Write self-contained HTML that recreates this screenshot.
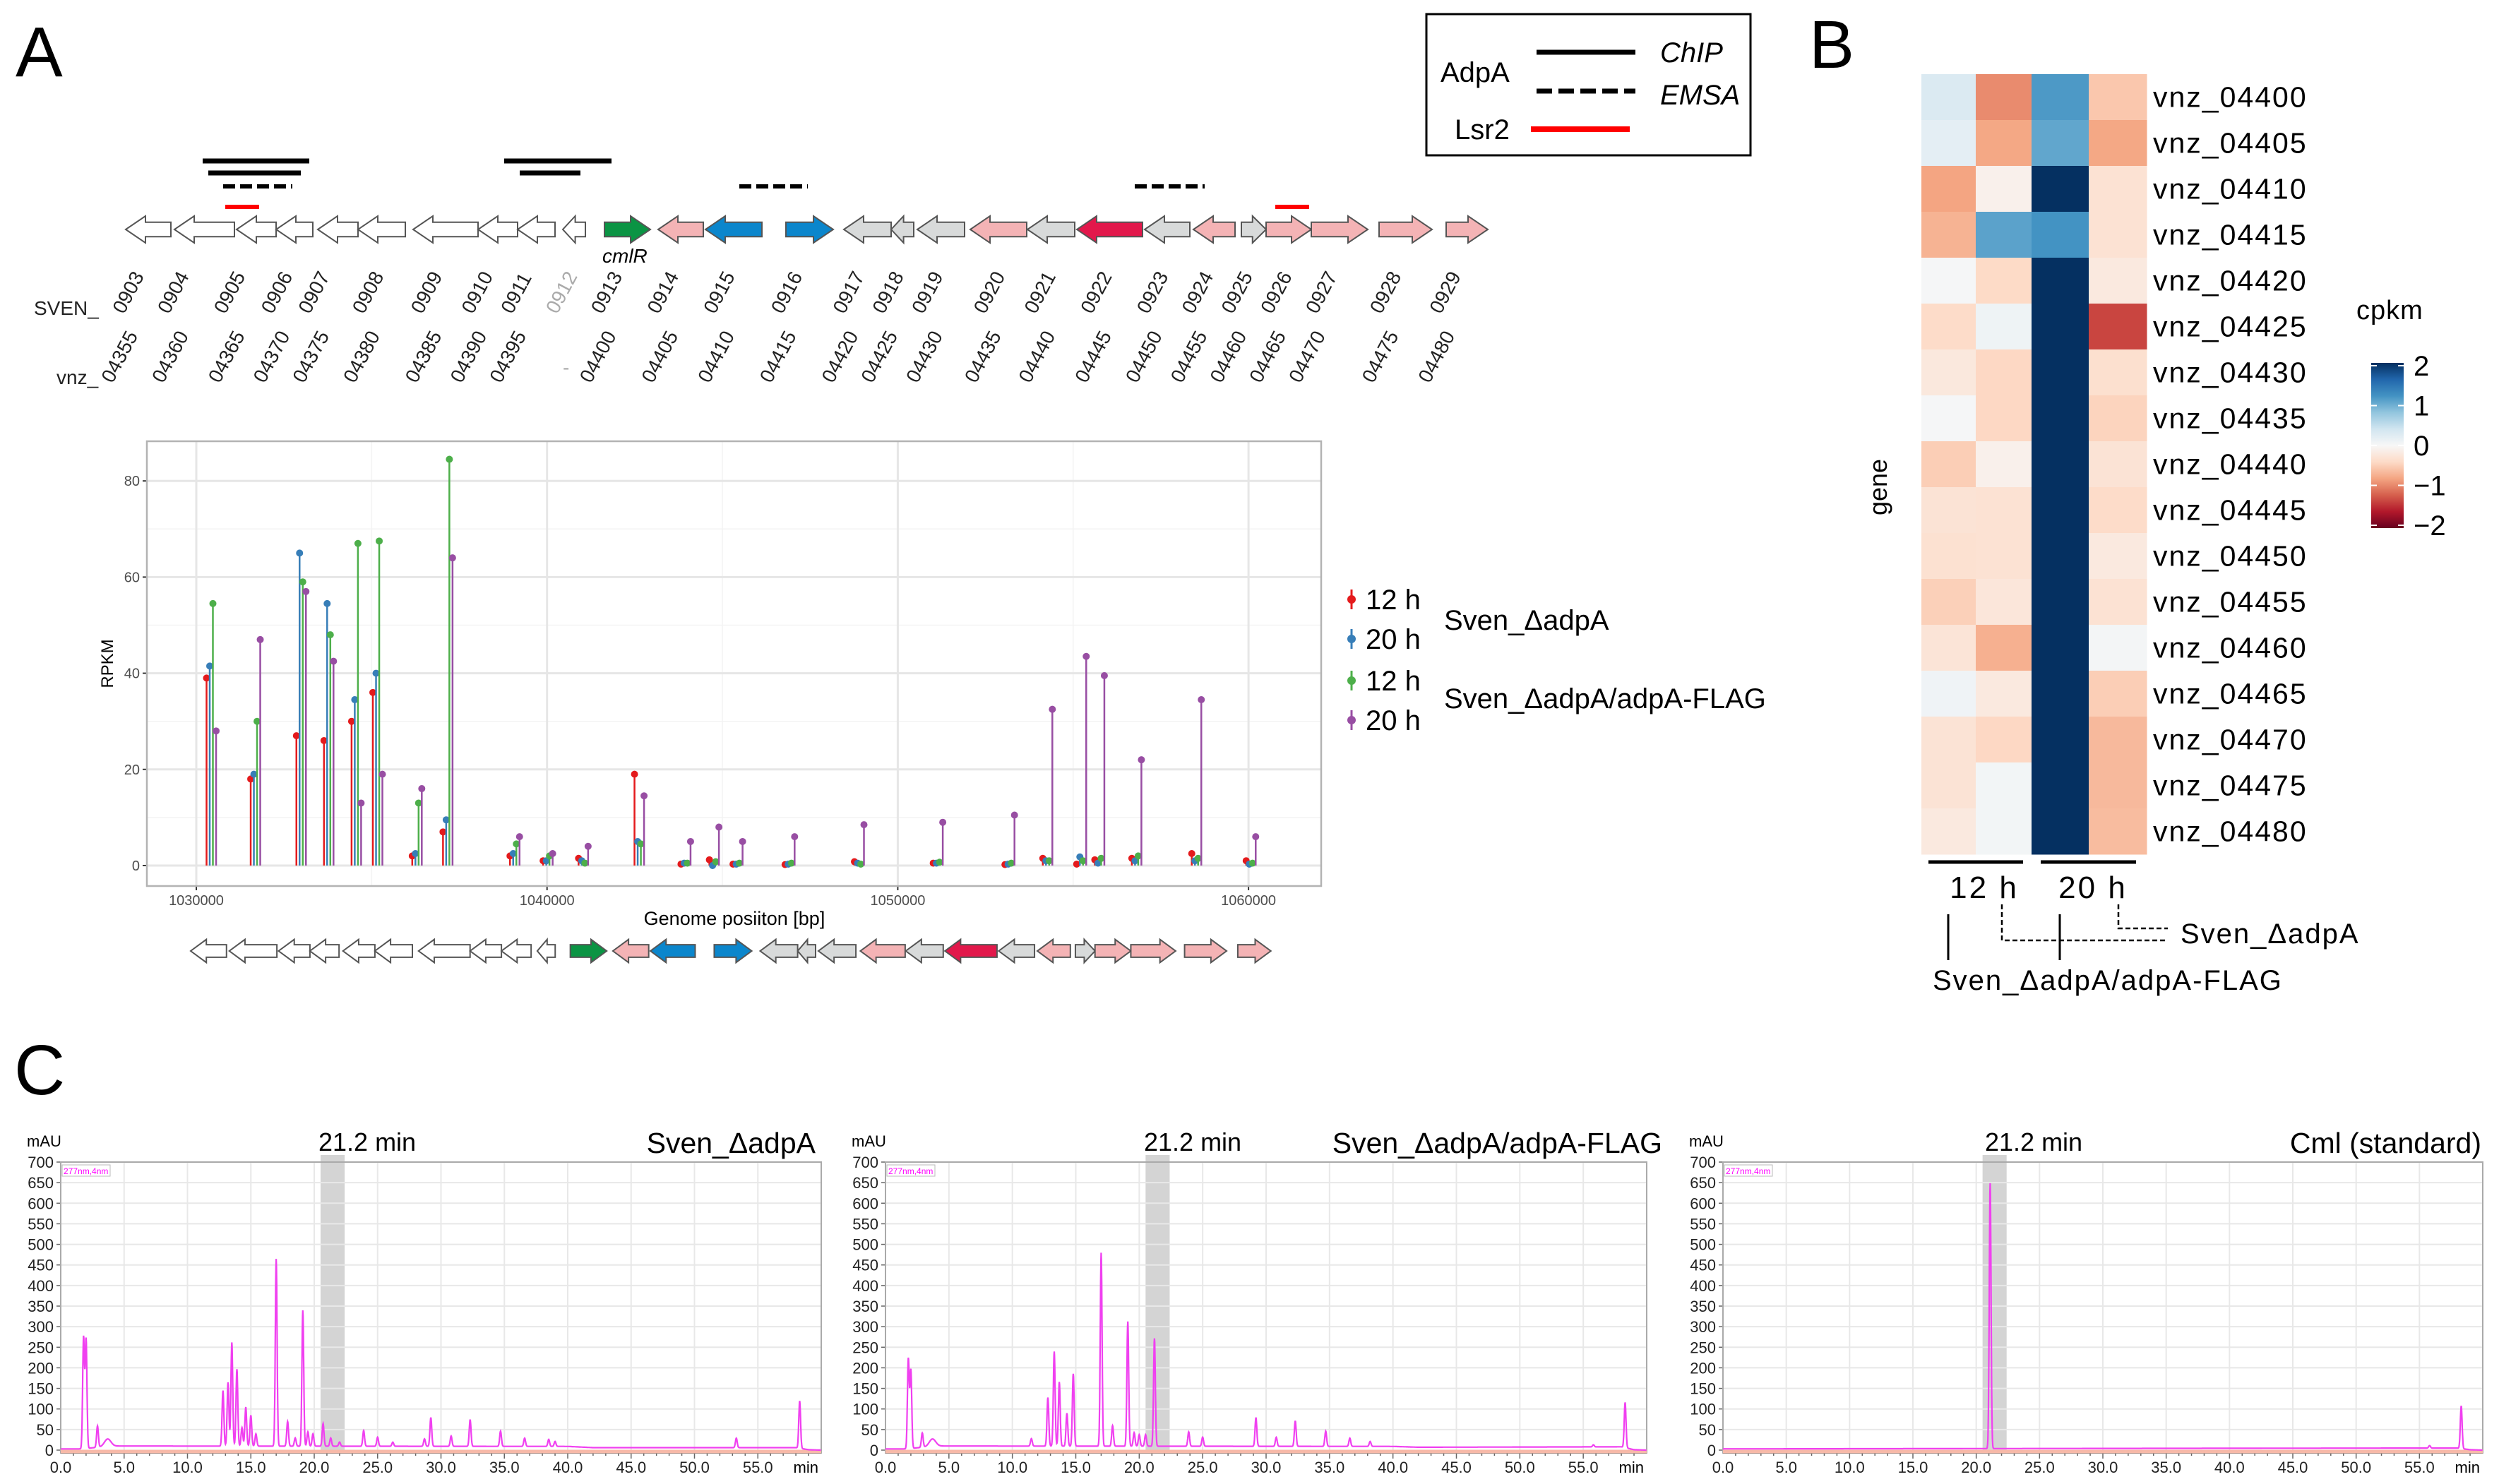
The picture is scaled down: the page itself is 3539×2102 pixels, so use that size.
<!DOCTYPE html>
<html><head><meta charset="utf-8">
<style>
html,body{margin:0;padding:0;background:#fff;}
svg{display:block;font-family:"Liberation Sans",sans-serif;}
.nar{font-family:"Liberation Sans Narrow","Liberation Sans",sans-serif;}
</style></head>
<body>
<svg id="fig" xmlns="http://www.w3.org/2000/svg" width="3539" height="2102" viewBox="0 0 3539 2102">
<rect x="0" y="0" width="3539" height="2102" fill="#fff"/>
<text x="22" y="108" font-size="100">A</text>
<text x="2562" y="96" font-size="96">B</text>
<text x="20" y="1550" font-size="100">C</text>

<g>
<rect x="2020" y="20" width="459" height="200" fill="#fff" stroke="#000" stroke-width="3"/>
<text x="2040" y="116" font-size="40">AdpA</text>
<line x1="2176" y1="74" x2="2316" y2="74" stroke="#000" stroke-width="7"/>
<line x1="2176" y1="129" x2="2316" y2="129" stroke="#000" stroke-width="7" stroke-dasharray="22,9"/>
<line x1="2168" y1="183" x2="2308" y2="183" stroke="#f00" stroke-width="8"/>
<text x="2351" y="88" font-size="40" font-style="italic">ChIP</text>
<text x="2351" y="148" font-size="40" font-style="italic">EMSA</text>
<text x="2060" y="197" font-size="40">Lsr2</text>
</g>
<g id="bind"></g>
<g id="mapTop"></g>
<text x="853" y="372" font-size="28" font-style="italic">cmlR</text>
<g id="labels"></g>

<g id="rpkm"></g>
<g id="mapBot"></g>
<g id="rleg"></g>

<g id="heat"></g>
<g id="chrom"></g>
</svg>
<script>
// ---------- gene map data (map units) ----------
const geneStart=[178,247,335,391,450,507,585,677,733,797,856,932,999,1113,1195,1262,1299,1374,1455,1525,1621,1690,1758,1793,1857,1953,2048];
const geneEnd  =[242,332,391,443,507,574,677,733,786,829,921,996,1079,1180,1262,1294,1366,1454,1522,1618,1685,1749,1793,1857,1937,2028,2107];
const geneDir  =['L','L','L','L','L','L','L','L','L','L','R','L','L','R','L','L','L','L','L','L','L','L','R','R','R','R','R'];
const geneCol  =['w','w','w','w','w','w','w','w','w','w','g','p','b','b','y','y','y','p','y','r','y','p','y','p','p','p','p'];
const svenIds=['0903','0904','0905','0906','0907','0908','0909','0910','0911','0912','0913','0914','0915','0916','0917','0918','0919','0920','0921','0922','0923','0924','0925','0926','0927','0928','0929'];
const svenPos=[105,145,195,237,270,318,370,415,450,490,530,580,630,690,745,780,815,870,915,965,1015,1055,1090,1125,1165,1222,1275];
const vnzIds=['04355','04360','04365','04370','04375','04380','04385','04390','04395','','04400','04405','04410','04415','04420','04425','04430','04435','04440','04445','04450','04455','04460','04465','04470','04475','04480'];
const vnzPos=[95,140,190,230,265,310,365,405,440,500,520,575,625,680,735,770,810,862,910,960,1005,1045,1080,1115,1150,1215,1265];
const chipA=[[287,438],[714,866]], chipB=[[295,426],[736,822]], emsa=[[316,414],[1047,1144],[1607,1706]], lsr2=[[319,367],[1806,1854]];

const NS='http://www.w3.org/2000/svg';
function mk(tag,attrs,parent){const e=document.createElementNS(NS,tag);for(const k in attrs)e.setAttribute(k,attrs[k]);if(parent)parent.appendChild(e);return e;}
const COLS={w:'#ffffff',g:'#0b9444',p:'#f4b3b5',b:'#0b86cc',y:'#d8dada',r:'#e2184b'};

function drawMap(g,cy,h){
  for(let i=0;i<geneStart.length;i++){
    const a=geneStart[i],b=geneEnd[i],len=b-a,hl=Math.min(28,len*0.55),bh=h*0.27;
    let pts;
    if(geneDir[i]==='R'){pts=[[a,cy-bh],[b-hl,cy-bh],[b-hl,cy-h/2],[b,cy],[b-hl,cy+h/2],[b-hl,cy+bh],[a,cy+bh]];}
    else{pts=[[b,cy-bh],[a+hl,cy-bh],[a+hl,cy-h/2],[a,cy],[a+hl,cy+h/2],[a+hl,cy+bh],[b,cy+bh]];}
    const p=mk('polygon',{points:pts.map(q=>q.join(',')).join(' '),fill:COLS[geneCol[i]],stroke:'#555','stroke-width':2,'vector-effect':'non-scaling-stroke'},g);
    
    
  }
}
drawMap(document.getElementById('mapTop'),325,38);
const mb=mk('g',{transform:'translate(270,1347) scale(0.793,0.86) translate(-178,-325)'},document.getElementById('mapBot'));
drawMap(mb,325,38);

const bind=document.getElementById('bind');
chipA.forEach(s=>{const l=mk('line',{x1:s[0],x2:s[1],y1:228,y2:228,stroke:'#000','stroke-width':7},bind);});
chipB.forEach(s=>{const l=mk('line',{x1:s[0],x2:s[1],y1:245,y2:245,stroke:'#000','stroke-width':7},bind);});
emsa.forEach(s=>{const l=mk('line',{x1:s[0],x2:s[1],y1:264,y2:264,stroke:'#000','stroke-width':6,'stroke-dasharray':'17,7'},bind);});
lsr2.forEach(s=>{const l=mk('line',{x1:s[0],x2:s[1],y1:293,y2:293,stroke:'#f00','stroke-width':6},bind);});

const lab=document.getElementById('labels');
let t=mk('text',{x:48,y:446,'font-size':28,fill:'#222'},lab);t.textContent='SVEN_';

t=mk('text',{x:80,y:544,'font-size':28,fill:'#222'},lab);t.textContent='vnz_';

svenIds.forEach((s,i)=>{const x=svenPos[i]*1.594+8,y=446;const e=mk('text',{x:x,y:y,'font-size':28,fill:s==='0912'?'#aaa':'#222',transform:`rotate(-62 ${x} ${y})`},lab);e.textContent=s;
});
vnzIds.forEach((s,i)=>{const x=vnzPos[i]*1.594+8,y=544;let e;
 if(s===''){e=mk('text',{x:x-8,y:530,'font-size':28,fill:'#aaa'},lab);e.textContent='-';}
 else{e=mk('text',{x:x,y:y,'font-size':28,fill:'#222',transform:`rotate(-62 ${x} ${y})`},lab);e.textContent=s;}
 });

// ---------- RPKM chart ----------
const rpkmPos=[1030292,1031551,1032854,1033640,1034427,1035034,1036157,1037034,1038944,1039888,1040899,1042494,1043820,1044629,1045303,1046787,1048764,1051011,1053056,1054135,1055101,1055618,1056674,1058382,1059933];
const adpA12=[39,18,27,26,30,36,2,7,2,1,1.5,19,0.3,1.2,0.3,0.2,0.8,0.5,0.2,1.5,0.3,1.2,1.5,2.5,1];
const adpA20=[41.5,19,65,54.5,34.5,40,2.5,9.5,2.5,1,1,5,0.5,0,0.3,0.3,0.5,0.5,0.3,1,1.8,0.5,1,1,0.3];
const flag12=[54.5,30,59,48,67,67.5,13,84.5,4.5,2,0.5,4.5,0.5,0.8,0.5,0.5,0.3,0.7,0.5,1,1,1.5,2,1.5,0.5];
const flag20=[28,47,57,42.5,13,19,16,64,6,2.5,4,14.5,5,8,5,6,8.5,9,10.5,32.5,43.5,39.5,22,34.5,6];
const rpkmYTicks=[0,20,40,60,80];
const rpkmXTicks=[1030000,1040000,1050000,1060000];
const rx=v=>278+(v-1030000)*0.04967, ry=v=>1226-v*6.81;
const R=document.getElementById('rpkm');
mk('rect',{x:208,y:625,width:1663,height:630,fill:'#fff'},R);
for(let v=10;v<=80;v+=20)mk('line',{x1:208,x2:1871,y1:ry(v),y2:ry(v),stroke:'#f3f3f3','stroke-width':1.5},R);
for(let v=1035000;v<1062000;v+=10000)mk('line',{x1:rx(v),x2:rx(v),y1:625,y2:1255,stroke:'#f3f3f3','stroke-width':1.5},R);
rpkmYTicks.forEach(v=>{mk('line',{x1:208,x2:1871,y1:ry(v),y2:ry(v),stroke:'#e6e6e6','stroke-width':3},R);
 mk('line',{x1:202,x2:208,y1:ry(v),y2:ry(v),stroke:'#333','stroke-width':2},R);
 const e=mk('text',{x:198,y:ry(v)+7,'font-size':20,'text-anchor':'end',fill:'#4d4d4d'},R);e.textContent=v;
 });
rpkmXTicks.forEach(v=>{mk('line',{x1:rx(v),x2:rx(v),y1:625,y2:1255,stroke:'#e6e6e6','stroke-width':3},R);
 mk('line',{x1:rx(v),x2:rx(v),y1:1255,y2:1261,stroke:'#333','stroke-width':2},R);
 const e=mk('text',{x:rx(v),y:1282,'font-size':20,'text-anchor':'middle',fill:'#4d4d4d'},R);e.textContent=v;
 });
const SER=[[adpA12,'#e41a1c','adpA-12h'],[adpA20,'#377eb8','adpA-20h'],[flag12,'#4daf4a','flag-12h'],[flag20,'#984ea3','flag-20h']];
SER.forEach((s,k)=>{rpkmPos.forEach((p,i)=>{const x=rx(p)+k*4.5;
 const l=mk('line',{x1:x,x2:x,y1:ry(0),y2:ry(s[0][i]),stroke:s[1],'stroke-width':2.5},R);
 
 const c=mk('circle',{cx:x,cy:ry(s[0][i]),r:5,fill:s[1]},R);
 });});
mk('rect',{x:208,y:625,width:1663,height:630,fill:'none',stroke:'#b3b3b3','stroke-width':2.5},R);
t=mk('text',{x:160,y:940,'font-size':24,'text-anchor':'middle',transform:'rotate(-90 160 940)'},R);t.textContent='RPKM';

t=mk('text',{x:1040,y:1310,'font-size':27,'text-anchor':'middle'},R);t.textContent='Genome posiiton [bp]';


const RL=document.getElementById('rleg');
const legY=[849,905,964,1020],legT=['12 h','20 h','12 h','20 h'];
SER.forEach((s,k)=>{mk('line',{x1:1914,x2:1914,y1:legY[k]-14,y2:legY[k]+14,stroke:s[1],'stroke-width':3},RL);
 mk('circle',{cx:1914,cy:legY[k],r:6,fill:s[1]},RL);
 const e=mk('text',{x:1934,y:legY[k]+14,'font-size':40},RL);e.textContent=legT[k];
 });
t=mk('text',{x:2045,y:892,'font-size':40},RL);t.textContent='Sven_ΔadpA';

t=mk('text',{x:2045,y:1003,'font-size':40},RL);t.textContent='Sven_ΔadpA/adpA-FLAG';


// ---------- heatmap ----------
const heatGenes=['vnz_04400','vnz_04405','vnz_04410','vnz_04415','vnz_04420','vnz_04425','vnz_04430','vnz_04435','vnz_04440','vnz_04445','vnz_04450','vnz_04455','vnz_04460','vnz_04465','vnz_04470','vnz_04475','vnz_04480'];
const heatFlag12=[0.3,0.2,-0.8,-0.7,0.02,-0.38,-0.22,0.02,-0.5,-0.28,-0.32,-0.48,-0.27,0.08,-0.28,-0.28,-0.2];
const heatFlag20=[-0.95,-0.78,-0.1,1.08,-0.4,0.1,-0.42,-0.42,-0.1,-0.3,-0.3,-0.24,-0.72,-0.2,-0.42,0.05,0.05];
const heatAdpA12=[1.15,1.05,2,1.2,2,2,2,2,2,2,2,2,2,2,2,2,2];
const heatAdpA20=[-0.55,-0.78,-0.3,-0.3,-0.2,-1.35,-0.33,-0.45,-0.28,-0.38,-0.2,-0.3,0.04,-0.5,-0.65,-0.65,-0.63];
const cbTicks=[2,1,0,-1,-2];
const RdBu=['#67001f','#b2182b','#d6604d','#f4a582','#fddbc7','#f7f7f7','#d1e5f0','#92c5de','#4393c3','#2166ac','#053061'];
function hx(h){return [1,3,5].map(i=>parseInt(h.substr(i,2),16));}
function col(v){v=Math.max(-2,Math.min(2,v));const f=(v+2)/0.4,i=Math.min(9,Math.floor(f)),u=f-i;const a=hx(RdBu[i]),b=hx(RdBu[i+1]);return 'rgb('+a.map((c,j)=>Math.round(c+(b[j]-c)*u)).join(',')+')';}
const H=document.getElementById('heat');
const colX=[2721,2798,2877,2958,3040],rowH=65,hy0=105;
[heatFlag12,heatFlag20,heatAdpA12,heatAdpA20].forEach((arr,c)=>{arr.forEach((v,r)=>{
 const e=mk('rect',{x:colX[c],y:hy0+r*rowH,width:colX[c+1]-colX[c]+0.5,height:rowH+0.5,fill:col(v)},H);
 });});
heatGenes.forEach((g,r)=>{const e=mk('text',{x:3049,y:hy0+r*rowH+rowH/2+14,'font-size':41,'letter-spacing':'2'},H);e.textContent=g;
 });
t=mk('text',{x:2672,y:690,'font-size':36,'text-anchor':'middle',transform:'rotate(-90 2672 690)'},H);t.textContent='gene';

t=mk('text',{x:3337,y:452,'font-size':38,'letter-spacing':'1'},H);t.textContent='cpkm';

const gr=mk('linearGradient',{id:'cbg',x1:0,y1:0,x2:0,y2:1},mk('defs',{},H));
RdBu.slice().reverse().forEach((c,i)=>mk('stop',{offset:i/10,'stop-color':c},gr));
const cbY=v=>631-v*56.5;
mk('rect',{x:3358,y:cbY(2)-4,width:46,height:cbY(-2)-cbY(2)+8,fill:'url(#cbg)'},H);
cbTicks.forEach(v=>{mk('line',{x1:3358,x2:3366,y1:cbY(v),y2:cbY(v),stroke:'#fff','stroke-width':2},H);
 mk('line',{x1:3396,x2:3404,y1:cbY(v),y2:cbY(v),stroke:'#fff','stroke-width':2},H);
 const e=mk('text',{x:3418,y:cbY(v)+14,'font-size':40},H);e.textContent=(v<0?'\u2212':'')+Math.abs(v);
 });
mk('line',{x1:2731,x2:2865,y1:1221,y2:1221,stroke:'#000','stroke-width':5},H);
mk('line',{x1:2890,x2:3025,y1:1221,y2:1221,stroke:'#000','stroke-width':5},H);
t=mk('text',{x:2810,y:1272,'font-size':44,'text-anchor':'middle','letter-spacing':'3'},H);t.textContent='12 h';

t=mk('text',{x:2964,y:1272,'font-size':44,'text-anchor':'middle','letter-spacing':'3'},H);t.textContent='20 h';

mk('line',{x1:2759,x2:2759,y1:1295,y2:1360,stroke:'#000','stroke-width':3},H);
mk('line',{x1:2917,x2:2917,y1:1295,y2:1360,stroke:'#000','stroke-width':3},H);
mk('polyline',{points:'2835,1281 2835,1332 3070,1332',fill:'none',stroke:'#000','stroke-width':2.5,'stroke-dasharray':'7,4'},H);
mk('polyline',{points:'3000,1281 3000,1315 3070,1315',fill:'none',stroke:'#000','stroke-width':2.5,'stroke-dasharray':'7,4'},H);
t=mk('text',{x:3088,y:1336,'font-size':40,'letter-spacing':'2'},H);t.textContent='Sven_ΔadpA';

t=mk('text',{x:2737,y:1402,'font-size':40,'letter-spacing':'2'},H);t.textContent='Sven_ΔadpA/adpA-FLAG';


// ---------- chromatograms ----------
const p1Times=[1.8,2.0,2.9,3.7,12.8,13.2,13.5,13.9,14.3,14.6,15.0,15.4,17.0,17.9,18.5,19.1,19.5,19.9,20.7,21.3,22.0,23.9,25.0,26.2,28.7,29.2,30.8,32.3,34.7,36.6,38.5,39.0,53.3,58.3];
const p1Heights=[270,265,52,18,135,155,252,187,45,95,75,30,455,60,20,330,35,30,55,20,10,38,22,10,18,70,25,65,37,20,17,12,23,115];
const p2Times=[1.8,2.0,2.9,3.7,11.5,12.8,13.3,13.7,14.3,14.8,17.0,17.9,19.1,19.6,20.0,20.5,21.2,23.9,25.0,29.2,30.8,32.3,34.7,36.6,38.2,55.8,58.3];
const p2Heights=[218,190,35,18,18,118,230,156,80,176,470,50,303,33,28,28,262,35,22,70,22,62,37,20,12,5,110];
const p3Times=[21.1,55.8,58.3];
const p3Heights=[645,6,104];
const p1Base=[[0,3],[1.6,3],[4,10],[40,9],[42,6],[58,6],[59,1],[60,0]];
const p2Base=[[0,3],[1.6,3],[4,10],[40,9],[42,7],[58,8],[59,1],[60,0]];
const p3Base=[[0,3],[55,5],[58,5],[59,1],[60,0]];
const chromYTicks=[0,50,100,150,200,250,300,350,400,450,500,550,600,650,700];
const chromXTicks=[0,5,10,15,20,25,30,35,40,45,50,55];
const panels=[
 {x0:86,x1:1163,times:p1Times,h:p1Heights,base:p1Base,title:'Sven_ΔadpA',tx:1155,mx:451,name:'adpa'},
 {x0:1254,x1:2332,times:p2Times,h:p2Heights,base:p2Base,title:'Sven_ΔadpA/adpA-FLAG',tx:2354,mx:1620,name:'flag'},
 {x0:2440,x1:3516,times:p3Times,h:p3Heights,base:p3Base,title:'Cml (standard)',tx:3514,mx:2811,name:'cml'}];
const C=document.getElementById('chrom');
const yTop=1646,yBot=2054;
panels.forEach(P=>{
 const g=mk('g',{},C);
 const X=m=>P.x0+(P.x1-P.x0)*m/60, Y=v=>yBot-(yBot-yTop)*v/700;
 mk('rect',{x:X(20.5),y:yTop-10,width:X(22.4)-X(20.5),height:yBot-yTop+10,fill:'#d4d4d4'},g);
 chromYTicks.forEach(v=>{if(v>0)mk('line',{x1:P.x0,x2:P.x1,y1:Y(v),y2:Y(v),stroke:'#e8e8e8','stroke-width':2},g);
  mk('line',{x1:P.x0-6,x2:P.x0,y1:Y(v),y2:Y(v),stroke:'#666','stroke-width':1.5},g);
  const e=mk('text',{x:P.x0-10,y:Y(v)+8,'font-size':22,'text-anchor':'end',fill:'#222',class:'nar'},g);e.textContent=v;
  });
 for(let m=1;m<60;m++){mk('line',{x1:X(m),x2:X(m),y1:yBot+4,y2:yBot+(m%5?8:12),stroke:'#666','stroke-width':1.5},g);}
 chromXTicks.forEach(m=>{if(m>0)mk('line',{x1:X(m),x2:X(m),y1:yTop,y2:yBot,stroke:'#e8e8e8','stroke-width':2},g);
  const e=mk('text',{x:X(m),y:2086,'font-size':22,'text-anchor':'middle',fill:'#222',class:'nar'},g);e.textContent=m.toFixed(1);
  });
 let e=mk('text',{x:X(60)-4,y:2086,'font-size':22,'text-anchor':'end',class:'nar'},g);e.textContent='min';
 mk('rect',{x:P.x0,y:yTop,width:P.x1-P.x0,height:yBot-yTop+4,fill:'none',stroke:'#aaa','stroke-width':2},g);
 mk('line',{x1:P.x0,x2:P.x1,y1:yBot+4,y2:yBot+4,stroke:'#666','stroke-width':2},g);
 // trace
 function base(m){const b=P.base;for(let i=0;i<b.length-1;i++){if(m>=b[i][0]&&m<=b[i+1][0]){const u=(m-b[i][0])/(b[i+1][0]-b[i][0]);return b[i][1]+(b[i+1][1]-b[i][1])*u;}}return 0;}
 let d='';
 for(let m=0;m<=60;m+=0.02){let v=base(m);P.times.forEach((tt,i)=>{const s=tt<5&&P.h[i]<30?0.25:0.07;v+=P.h[i]*Math.exp(-((m-tt)*(m-tt))/(2*s*s));});
  d+=(d?'L':'M')+X(m).toFixed(1)+','+Y(v).toFixed(1);}
 mk('path',{d:'M'+X(0)+','+(Y(0)+2)+'L'+X(60)+','+(Y(0)+2),stroke:'#f7b9a8','stroke-width':5,fill:'none'},g);
 const tr=mk('path',{d:d,stroke:'#f040f0','stroke-width':2.2,fill:'none'},g);
 
 mk('rect',{x:P.x0+2,y:yTop+4,width:68,height:16,fill:'#fff',stroke:'#bbb','stroke-width':1},g);
 e=mk('text',{x:P.x0+4,y:yTop+17,'font-size':12,fill:'#f0f',class:'nar'},g);e.textContent='277nm,4nm';
 e=mk('text',{x:P.x0-48,y:1624,'font-size':22,class:'nar'},g);e.textContent='mAU';
 
 e=mk('text',{x:P.mx,y:1630,'font-size':36},g);e.textContent='21.2 min';
 
 e=mk('text',{x:P.tx,y:1633,'font-size':41,'text-anchor':'end'},g);e.textContent=P.title;
 
});
</script>
</body></html>
